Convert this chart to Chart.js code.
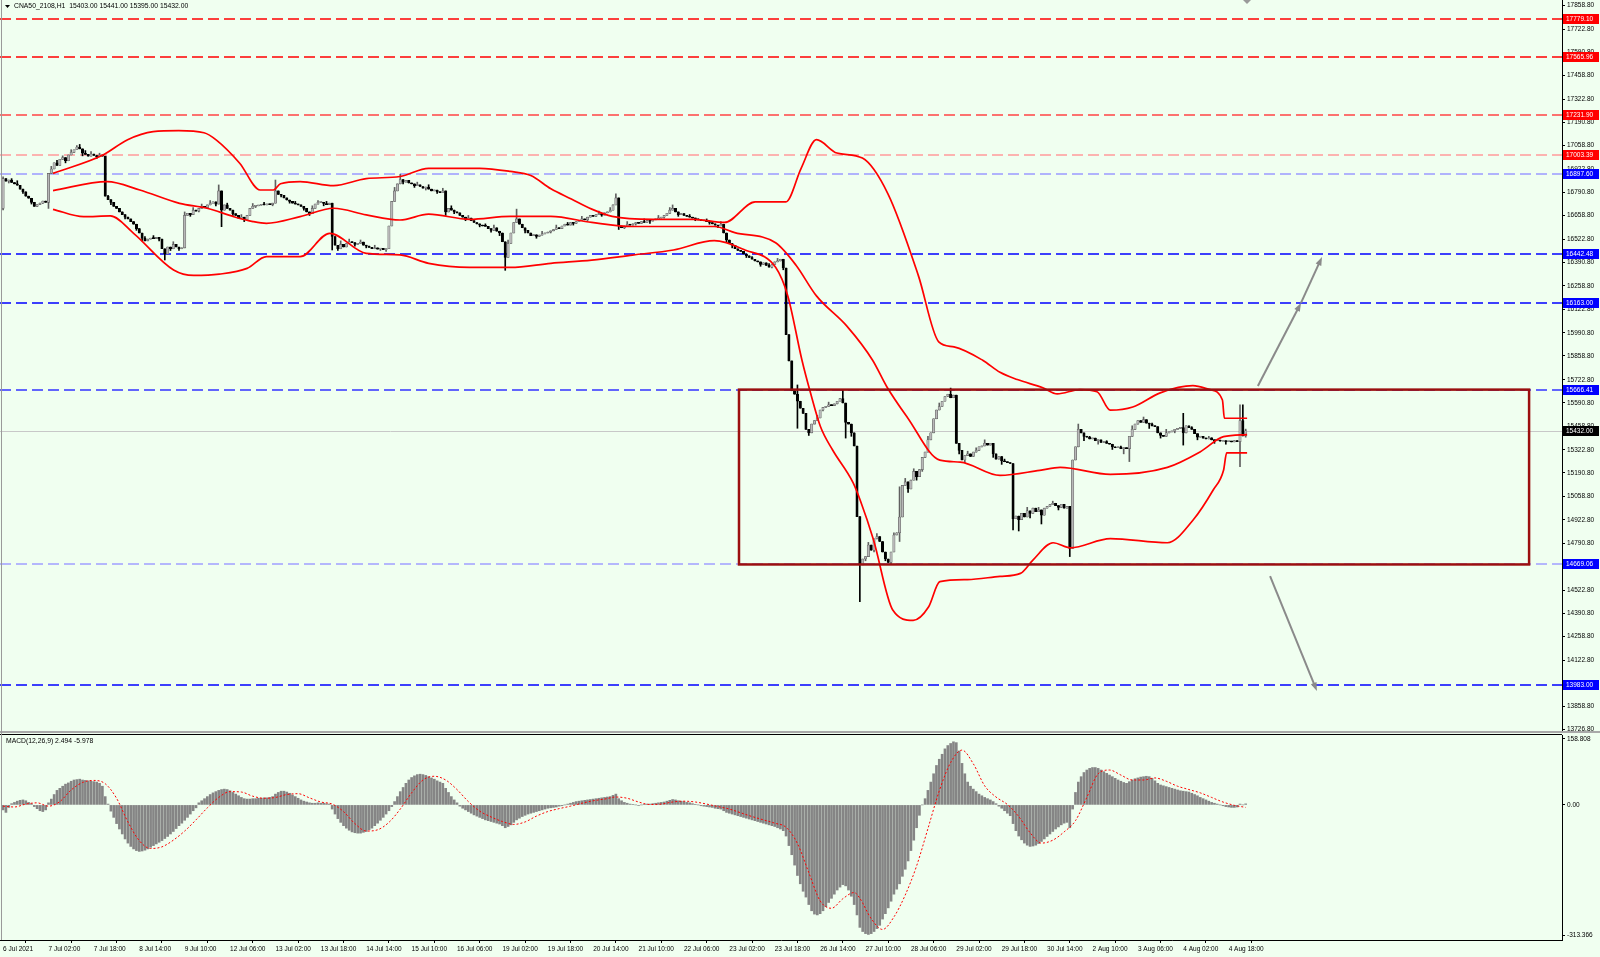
<!DOCTYPE html>
<html>
<head>
<meta charset="utf-8">
<script src="https://cdn.jsdelivr.net/npm/chart.js@4.4.1/dist/chart.umd.min.js"></script>
<style>
  html, body { margin: 0; padding: 0; background: #f0fff0; }
  #wrap { position: relative; width: 1600px; height: 957px; background: #f0fff0; overflow: hidden; }
  #main { position: absolute; left: 0; top: 0; width: 1600px; height: 731px; }
  #sub { position: absolute; left: 0; top: 735px; width: 1600px; height: 222px; }
  .ln { position: absolute; }
</style>
</head>
<body>
<div id="wrap">
  <div id="main"><canvas id="priceChart"></canvas></div>
  <div id="sub"><canvas id="macdChart"></canvas></div>
  <div class="ln" style="left:0;top:731px;width:1600px;height:2px;background:#a9a9a9"></div>
  <div class="ln" style="left:0;top:734px;width:1562px;height:1px;background:#000"></div>
  <div class="ln" style="left:1px;top:0;width:1px;height:940px;background:#9a9a9a"></div>
</div>
<script>
// ---- data (H1 bars, bar index 0 = 6 Jul 2021) ----
var symbolTitle = 'CNA50_2108,H1';
var firstOpen = 16700;
var closes = [
  16870,16855,16862,16848,16840,16832,16810,16795,16770,16758,16735,16712,16722,16730,16742,16735,
  16900,16925,16960,16945,16980,16990,16972,17005,17020,17035,17050,17040,17015,17008,16998,17010,
  17002,16995,17005,16998,16770,16750,16735,16712,16700,16680,16665,16650,16640,16625,16610,16585,
  16560,16530,16515,16525,16530,16528,16535,16525,16470,16440,16480,16470,16495,16480,16470,16475,
  16660,16672,16665,16690,16685,16700,16712,16705,16720,16730,16738,16725,16800,16690,16720,16700,
  16690,16670,16660,16645,16650,16635,16660,16700,16712,16715,16718,16722,16720,16725,16722,16730,
  16800,16780,16775,16760,16748,16740,16730,16725,16720,16712,16700,16680,16670,16700,16725,16735,
  16735,16728,16722,16730,16540,16490,16470,16495,16480,16500,16510,16505,16495,16500,16508,16490,
  16485,16478,16470,16475,16468,16472,16465,16470,16600,16740,16800,16840,16865,16850,16860,16845,
  16840,16830,16835,16825,16815,16822,16810,16800,16805,16795,16790,16800,16680,16700,16690,16680,
  16675,16660,16650,16640,16645,16630,16620,16612,16605,16600,16598,16585,16575,16590,16570,16560,
  16510,16420,16500,16560,16620,16640,16610,16590,16575,16560,16545,16550,16540,16548,16555,16560,
  16565,16572,16580,16590,16585,16600,16610,16605,16620,16615,16625,16630,16640,16635,16650,16660,
  16655,16665,16670,16662,16675,16680,16690,16720,16760,16600,16590,16600,16610,16605,16612,16620,
  16615,16625,16620,16630,16628,16635,16640,16645,16650,16660,16672,16690,16700,16680,16665,16670,
  16660,16655,16650,16645,16640,16635,16630,16632,16625,16620,16612,16605,16600,16610,16560,16520,
  16500,16490,16470,16460,16455,16440,16430,16420,16410,16400,16395,16380,16390,16375,16365,16380,
  16395,16400,16410,16360,15980,15830,15660,15640,15600,15560,15531,15440,15420,15470,15490,15505,
  15550,15565,15570,15580,15575,15585,15600,15615,15590,15480,15470,15420,15345,14942,14667,14700,
  14714,14780,14750,14815,14828,14800,14740,14700,14680,14740,14837,14850,14940,15120,15140,15100,
  15150,15200,15170,15210,15280,15310,15380,15420,15500,15550,15570,15600,15627,15640,15620,15635,
  15360,15320,15265,15290,15300,15285,15310,15320,15340,15345,15360,15350,15360,15300,15270,15285,
  15260,15255,15250,15245,14930,14945,14925,14960,14940,14975,14960,14990,14970,14980,14950,14990,
  15000,15010,15018,15005,14995,15012,14990,15000,14761,15265,15340,15440,15420,15400,15395,15385,
  15390,15375,15380,15365,15370,15360,15355,15340,15335,15340,15330,15335,15330,15400,15440,15470,
  15490,15480,15495,15475,15470,15460,15455,15420,15405,15400,15420,15425,15430,15440,15445,15450,
  15420,15460,15450,15440,15415,15395,15400,15390,15385,15392,15380,15375,15378,15372,15375,15370,
  15372,15368,15375,15370,15490,15403,15432
];
// wicks that stick out of the bodies
var wickHigh = {0:16880, 3:16870, 5:16858, 17:16940, 19:16975, 21:17000, 24:17035, 26:17058, 27:17065,
  29:17030, 31:17025, 34:17015, 37:16775, 41:16700, 45:16640, 50:16540, 53:16545, 60:16510, 64:16680,
  67:16705, 70:16725, 73:16745, 76:16834, 79:16730, 84:16665, 88:16728, 92:16735, 96:16862, 99:16775,
  103:16740, 109:16715, 111:16745, 114:16740, 119:16515, 122:16525, 126:16520, 131:16490, 138:16820,
  140:16895, 146:16850, 150:16835, 155:16815, 158:16715, 164:16660, 170:16612, 173:16605, 178:16520,
  181:16696, 186:16560, 190:16570, 195:16605, 199:16620, 204:16655, 210:16685, 214:16705, 216:16783,
  220:16625, 226:16640, 231:16660, 235:16705, 236:16720, 242:16665, 248:16640, 253:16625, 258:16485,
  264:16425, 270:16385, 273:16415, 280:15693, 287:15520, 291:15595, 296:15664, 300:15360, 305:14795,
  308:14845, 314:14850, 316:15112, 318:15160, 321:15215, 326:15400, 330:15590, 334:15675, 340:15315,
  343:15335, 346:15380, 353:15270, 361:14995, 365:14995, 370:15030, 379:15470, 383:15400, 389:15375,
  394:15345, 398:15460, 402:15510, 405:15475, 410:15440, 416:15531, 419:15455, 425:15400, 436:15579,
  437:15579, 438:15441};
var wickLow = {0:16691, 2:16845, 7:16785, 10:16725, 14:16728, 16:16700, 18:16935, 22:16960, 28:17000,
  33:16985, 38:16722, 43:16640, 47:16575, 49:16515, 55:16515, 57:16406, 59:16460, 62:16460, 66:16655,
  69:16680, 72:16700, 75:16715, 77:16596, 81:16660, 85:16625, 89:16705, 95:16715, 98:16765, 101:16730,
  106:16690, 108:16660, 113:16715, 116:16463, 118:16460, 121:16490, 124:16485, 128:16475, 133:16460,
  135:16455, 141:16840, 145:16820, 149:16805, 153:16785, 156:16660, 159:16670, 163:16630, 168:16595,
  172:16565, 175:16545, 177:16347, 180:16600, 184:16560, 188:16530, 193:16560, 197:16590, 201:16605,
  206:16630, 211:16655, 217:16580, 219:16585, 223:16605, 228:16615, 233:16645, 238:16655, 244:16630,
  249:16610, 252:16590, 255:16505, 257:16475, 262:16420, 267:16370, 271:16360, 275:16350, 280:15446,
  284:15405, 289:15545, 297:15390, 299:15400, 302:14457, 304:14690, 307:14740, 311:14690, 313:14670,
  316:14800, 319:15080, 322:15150, 324:15200, 337:15300, 339:15250, 344:15320, 349:15280, 352:15240,
  356:14866, 358:14860, 362:14935, 366:14900, 372:14980, 376:14714, 381:15375, 386:15355, 391:15325,
  395:15300, 397:15256, 404:15445, 408:15390, 413:15420, 416:15350, 421:15380, 427:15360, 431:15355,
  436:15227, 438:15395};

// Bollinger envelope (higher timeframe), [bar, price]
var upperBand = [[17.6,16900],[35.2,17005],[43.9,17092],[52.9,17138],[61.9,17144],[70.8,17132],[75.2,17090],
  [83.4,16958],[90.6,16805],[95.3,16805],[97.8,16841],[104.7,16853],[116.5,16830],[128,16870],[139.9,16882],
  [150,16929],[168,16929],[178.8,16911],[186,16888],[193.1,16812],[200.3,16754],[207.5,16696],[214.7,16655],
  [229.1,16638],[243.5,16638],[254.3,16620],[265.1,16737],[275.9,16737],[281.3,16929],[286.7,17092],
  [293.9,17016],[302.9,16987],[311.9,16783],[322.6,16318],[329.8,15939],[335.2,15910],[345.3,15834],
  [351.4,15765],[357.5,15724],[366.5,15677],[371.6,15642],[379.5,15666],[385.6,15654],[390.3,15549],
  [398.2,15567],[407.9,15648],[419.4,15689],[425.5,15666],[429.8,15607],[430.5,15503],[438.5,15503]];
var middleBand = [[17.6,16802],[36.7,16853],[48.2,16805],[62.2,16729],[71.9,16701],[81.3,16653],[88.1,16625],
  [92.8,16615],[104.7,16653],[116.5,16701],[128,16663],[139.9,16634],[150,16667],[164.4,16638],[178.8,16655],
  [193.1,16655],[207.5,16620],[221.9,16597],[236.3,16597],[250.7,16597],[257.9,16562],[272.3,16504],
  [279.5,16376],[286.7,16201],[297.5,16027],[306.5,15834],[311.5,15683],[318.7,15509],[330.2,15264],
  [337.4,15253],[351.4,15177],[365.4,15206],[372.6,15223],[390.3,15183],[410.4,15223],[421.9,15311],
  [430.2,15398],[438.5,15410]];
var lowerBand = [[17.6,16695],[28.4,16653],[37.8,16657],[46,16558],[60.1,16349],[67.2,16318],[76.2,16325],
  [86,16358],[92.8,16425],[104.7,16425],[115.1,16558],[128,16444],[139.9,16435],[150,16387],[164.4,16364],
  [178.8,16364],[193.1,16387],[207.5,16405],[221.9,16434],[236.3,16463],[250.7,16516],[261.5,16463],
  [272.3,16364],[276.6,16201],[281.6,15834],[284.5,15654],[288.1,15456],[292.4,15322],[299.6,15136],
  [302.1,15037],[306.8,14810],[313.6,14409],[320.8,14350],[326.2,14426],[330.2,14571],[339.9,14583],
  [351.4,14601],[358.6,14618],[363,14694],[370.1,14793],[376.2,14764],[390.3,14816],[410.4,14793],
  [419.4,14921],[426.6,15095],[430.2,15206],[431.3,15305],[438.5,15305]];

// MACD(12,26,9): main line as histogram, one value per bar
var macdMain = [
  -12,-18,-6,3,6,9,11,12,10,6,3,-4,-9,-14,-16,-12,
  5,14,25,35,40,45,50,53,57,60,61,62,60,59,58,57,
  56,55,52,45,20,2,-15,-30,-45,-58,-70,-82,-92,-100,-106,-110,
  -112,-111,-109,-106,-102,-98,-94,-90,-86,-81,-76,-70,-64,-57,-50,-44,
  -37,-30,-22,-14,-7,5,10,15,20,25,29,32,35,37,38,37,
  34,30,26,22,18,15,14,14,15,15,16,16,17,17,18,20,
  26,30,33,33,31,28,24,20,16,12,9,7,5,4,4,5,
  4,4,3,2,-10,-22,-33,-42,-50,-56,-61,-65,-67,-68,-68,-66,
  -64,-60,-56,-50,-44,-37,-30,-22,-14,-4,8,20,32,42,52,60,
  66,70,73,74,73,71,68,65,62,58,55,52,40,30,20,12,
  5,-3,-8,-12,-16,-20,-24,-27,-30,-33,-36,-38,-40,-42,-44,-46,
  -50,-55,-52,-48,-42,-36,-32,-28,-25,-22,-20,-18,-16,-14,-12,-10,
  -8,-7,-6,-5,-3,-2,0,2,4,6,8,9,10,11,12,13,
  14,15,16,17,18,19,20,23,26,15,10,6,4,2,1,0,
  -1,0,1,2,2,3,4,5,6,7,9,11,13,12,10,9,
  8,6,5,3,1,0,-2,-3,-4,-5,-6,-8,-9,-10,-14,-18,
  -20,-22,-24,-26,-28,-30,-32,-34,-36,-38,-40,-42,-44,-46,-48,-50,
  -52,-55,-58,-62,-75,-98,-120,-145,-170,-190,-208,-222,-240,-255,-263,-265,
  -262,-255,-245,-235,-225,-215,-205,-198,-192,-195,-205,-220,-240,-265,-295,-305,
  -310,-312,-310,-305,-298,-290,-275,-262,-248,-232,-215,-203,-190,-172,-155,-135,
  -110,-85,-55,-25,0,15,35,55,75,95,110,122,135,143,148,152,
  150,130,100,75,55,45,38,32,26,22,18,15,12,8,3,-3,
  -8,-14,-20,-26,-45,-62,-75,-84,-92,-97,-100,-99,-97,-93,-88,-82,
  -76,-70,-64,-58,-53,-48,-44,-42,-55,-10,30,55,68,78,84,88,
  90,90,88,84,80,76,72,68,64,60,57,54,52,56,60,63,
  65,67,68,69,68,64,58,52,48,46,44,42,40,38,36,34,
  33,32,31,28,25,22,18,15,12,9,6,4,2,0,-2,-4,
  -5,-6,-6,-5,2,0,2.494
];
var macdSignal = [[0,-3],[4,-5],[8,2],[12,5],[16,-3],[20,8],[24,36],[28,54],[32,59],[36,51],[40,16],[44,-41],
  [48,-86],[52,-105],[56,-101],[60,-85],[64,-63],[68,-36],[72,-7],[76,18],[80,32],[84,31],[88,21],[92,16],
  [96,18],[100,25],[104,27],[108,17],[112,7],[116,2],[120,-16],[124,-45],[128,-63],[132,-60],[136,-42],
  [140,-10],[144,29],[148,60],[152,69],[156,60],[160,37],[164,8],[168,-15],[172,-29],[176,-40],[180,-47],
  [184,-41],[188,-27],[192,-16],[196,-9],[200,-3],[204,4],[208,10],[212,14],[216,19],[220,16],[224,7],
  [228,1],[232,2],[236,7],[240,9],[244,7],[248,2],[252,-4],[256,-10],[260,-19],[264,-28],[268,-36],
  [272,-44],[276,-54],[280,-93],[284,-163],[288,-231],[292,-249],[296,-226],[300,-211],[302,-225],
  [306,-274],[310,-300],[314,-270],[318,-217],[322,-147],[326,-57],[330,34],[334,102],[338,132],[342,99],
  [346,46],[350,19],[354,1],[358,-28],[362,-67],[366,-92],[370,-85],[374,-65],[378,-38],[382,18],[386,75],
  [390,84],[394,72],[398,60],[402,60],[406,65],[410,57],[414,45],[418,37],[422,29],[426,18],[430,7],
  [434,-1],[438,-5.978]];

// axes
var priceTicks = [17858.80,17722.80,17590.80,17458.80,17322.80,17190.80,17058.80,16922.80,16790.80,16658.80,
  16522.80,16390.80,16258.80,16122.80,15990.80,15858.80,15722.80,15590.80,15458.80,15322.80,15190.80,
  15058.80,14922.80,14790.80,14658.80,14522.80,14390.80,14258.80,14122.80,13990.80,13858.80,13726.80];
var macdTicks = [158.808, 0, -313.366];
var timeTickBars = [0,16,32,48,64,80,96,112,128,144,160,176,192,208,224,240,256,272,288,304,320,336,352,368,384,400,416,432];
var timeLabels = ['6 Jul 2021','7 Jul 02:00','7 Jul 18:00','8 Jul 14:00','9 Jul 10:00','12 Jul 06:00',
  '13 Jul 02:00','13 Jul 18:00','14 Jul 14:00','15 Jul 10:00','16 Jul 06:00','19 Jul 02:00','19 Jul 18:00',
  '20 Jul 14:00','21 Jul 10:00','22 Jul 06:00','23 Jul 02:00','23 Jul 18:00','26 Jul 14:00','27 Jul 10:00',
  '28 Jul 06:00','29 Jul 02:00','29 Jul 18:00','30 Jul 14:00','2 Aug 10:00','3 Aug 06:00','4 Aug 02:00',
  '4 Aug 18:00'];

// horizontal levels drawn on the chart
var levelPrices = [17779.10, 17565.96, 17231.90, 17003.39, 16897.60, 16442.48, 16163.00, 15666.41, 14669.06, 13983.00];
var levelLineColors = ['#ff0000','#ff0000','#ff4444','#ff9a9a','#9a9aff','#0000ff','#0000ff','#3333ff','#a0a0ff','#0000ff'];
var levelBoxColors = ['#ff0000','#ff0000','#ff0000','#ff0000','#0000ff','#0000ff','#0000ff','#0000ff','#0000ff','#0000ff'];
var lastPrice = 15432.00;

// drawn objects: rectangle [bar1, price1, bar2, price2] and arrows
var boxObject = [259.4, 15666.41, 537.9, 14669.06];
var arrowObjects = [[442.3, 15687, 457.5, 16161], [457.5, 16161, 464.9, 16423], [446.6, 14603, 463.1, 13947]];

var FONT = '"Liberation Sans", Arial, sans-serif';
Chart.defaults.font.family = FONT;
Chart.defaults.color = '#000';

var X_MIN = -1.09, X_MAX = 549.5;

var candleWicks = [], candleBodies = [], bodyColors = [], bodyBorders = [], wickColors = [];
for (var i = 0; i < closes.length; i++) {
  var o = i === 0 ? firstOpen : closes[i - 1];
  var c = closes[i];
  var hi = Math.max(o, c), lo = Math.min(o, c);
  if (wickHigh[i] !== undefined) hi = Math.max(hi, wickHigh[i]);
  if (wickLow[i] !== undefined) lo = Math.min(lo, wickLow[i]);
  candleWicks.push({x: i, y: [lo, hi]});
  candleBodies.push({x: i, y: [o, c]});
  var up = c >= o;
  bodyColors.push(up ? '#b8b8b8' : '#000000');
  bodyBorders.push(up ? '#606060' : '#000000');
  wickColors.push(up ? '#606060' : '#000000');
}

function toPoints(arr) {
  return arr.map(function(p) { return {x: p[0], y: p[1]}; });
}

function bandDataset(arr) {
  return {
    type: 'line', data: toPoints(arr), borderColor: '#ff0000', borderWidth: 1.7,
    pointRadius: 0, cubicInterpolationMode: 'monotone', order: 1
  };
}

function drawArrow(ctx, x1, y1, x2, y2) {
  var ang = Math.atan2(y2 - y1, x2 - x1);
  ctx.beginPath();
  ctx.moveTo(x1, y1);
  ctx.lineTo(x2 - 6 * Math.cos(ang), y2 - 6 * Math.sin(ang));
  ctx.stroke();
  ctx.beginPath();
  ctx.moveTo(x2, y2);
  ctx.lineTo(x2 - 9 * Math.cos(ang - 0.35), y2 - 9 * Math.sin(ang - 0.35));
  ctx.lineTo(x2 - 9 * Math.cos(ang + 0.35), y2 - 9 * Math.sin(ang + 0.35));
  ctx.closePath();
  ctx.fill();
}

function axisBox(ctx, x, y, bg, text) {
  ctx.fillStyle = bg;
  ctx.fillRect(x, Math.round(y) - 5, 36, 10);
  ctx.fillStyle = '#ffffff';
  ctx.textAlign = 'left';
  ctx.textBaseline = 'middle';
  ctx.fillText(text, x + 3, Math.round(y) + 0.5);
}

var mt4Objects = {
  id: 'mt4Objects',
  beforeDatasetsDraw: function(chart) {
    var ctx = chart.ctx, area = chart.chartArea, ys = chart.scales.y;
    ctx.save();
    ctx.lineWidth = 1.5;
    ctx.setLineDash([11, 5]);
    levelPrices.forEach(function(p, k) {
      var y = Math.round(ys.getPixelForValue(p));
      ctx.strokeStyle = levelLineColors[k];
      ctx.beginPath();
      ctx.moveTo(area.left, y);
      ctx.lineTo(area.right, y);
      ctx.stroke();
    });
    ctx.setLineDash([]);
    ctx.lineWidth = 1;
    var yl = Math.round(ys.getPixelForValue(lastPrice)) + 0.5;
    ctx.strokeStyle = '#c8c8c8';
    ctx.beginPath();
    ctx.moveTo(area.left, yl);
    ctx.lineTo(area.right, yl);
    ctx.stroke();
    ctx.restore();
  },
  afterDatasetsDraw: function(chart) {
    var ctx = chart.ctx, xs = chart.scales.x, ys = chart.scales.y;
    ctx.save();
    var x1 = xs.getPixelForValue(boxObject[0]), y1 = ys.getPixelForValue(boxObject[1]);
    var x2 = xs.getPixelForValue(boxObject[2]), y2 = ys.getPixelForValue(boxObject[3]);
    ctx.strokeStyle = '#9b0f0f';
    ctx.lineWidth = 2.5;
    ctx.strokeRect(x1, y1, x2 - x1, y2 - y1);
    ctx.strokeStyle = '#8a8a8a';
    ctx.fillStyle = '#8a8a8a';
    ctx.lineWidth = 2;
    arrowObjects.forEach(function(a) {
      drawArrow(ctx, xs.getPixelForValue(a[0]), ys.getPixelForValue(a[1]),
        xs.getPixelForValue(a[2]), ys.getPixelForValue(a[3]));
    });
    ctx.restore();
  },
  afterDraw: function(chart) {
    var ctx = chart.ctx, area = chart.chartArea, ys = chart.scales.y;
    ctx.save();
    ctx.font = '6.5px ' + FONT;
    levelPrices.forEach(function(p, k) {
      axisBox(ctx, area.right + 1, ys.getPixelForValue(p), levelBoxColors[k], p.toFixed(2));
    });
    axisBox(ctx, area.right + 1, ys.getPixelForValue(lastPrice), '#000000', lastPrice.toFixed(2));
    // title line
    ctx.fillStyle = '#000';
    ctx.beginPath();
    ctx.moveTo(5, 5); ctx.lineTo(10, 5); ctx.lineTo(7.5, 8); ctx.closePath(); ctx.fill();
    ctx.font = '6.8px ' + FONT;
    ctx.textAlign = 'left';
    ctx.textBaseline = 'middle';
    var n = closes.length - 1;
    ctx.fillText(symbolTitle + '  ' + closes[n - 1].toFixed(2) + ' ' + wickHigh[n].toFixed(2) + ' ' +
      wickLow[n].toFixed(2) + ' ' + closes[n].toFixed(2), 14, 6.5);
    // chart shift marker
    ctx.fillStyle = '#9a9a9a';
    ctx.beginPath();
    ctx.moveTo(1243, 0); ctx.lineTo(1251, 0); ctx.lineTo(1247, 4); ctx.closePath(); ctx.fill();
    ctx.restore();
  }
};

new Chart(document.getElementById('priceChart'), {
  type: 'bar',
  data: {
    datasets: [
      bandDataset(upperBand),
      bandDataset(middleBand),
      bandDataset(lowerBand),
      { data: candleWicks, backgroundColor: wickColors, barThickness: 1, grouped: false, order: 3 },
      { data: candleBodies, backgroundColor: bodyColors, borderColor: bodyBorders, borderWidth: 0.6,
        borderSkipped: false, barThickness: 2.4, minBarLength: 1, grouped: false, order: 2 }
    ]
  },
  options: {
    responsive: true, maintainAspectRatio: false, animation: false,
    layout: { padding: 0 },
    plugins: { legend: { display: false }, tooltip: { enabled: false } },
    scales: {
      x: { type: 'linear', min: X_MIN, max: X_MAX, offset: false, display: false },
      y: {
        position: 'right', min: 13719, max: 17889,
        afterBuildTicks: function(s) { s.ticks = priceTicks.map(function(v) { return {value: v}; }); },
        afterFit: function(s) { s.width = 38; s.paddingTop = 0; s.paddingBottom = 0; },
        ticks: { autoSkip: false, padding: 2, font: { size: 6.5 }, color: '#000',
          callback: function(v) { return Number(v).toFixed(2); } },
        grid: { drawOnChartArea: false, tickLength: 3, color: '#000' },
        border: { color: '#000' }
      }
    }
  },
  plugins: [mt4Objects]
});

var macdLabel = {
  id: 'macdLabel',
  afterDraw: function(chart) {
    var ctx = chart.ctx;
    ctx.save();
    ctx.font = '6.8px ' + FONT;
    ctx.fillStyle = '#000';
    ctx.textAlign = 'left';
    ctx.textBaseline = 'middle';
    ctx.fillText('MACD(12,26,9) ' + macdMain[macdMain.length - 1].toFixed(3) + ' ' +
      macdSignal[macdSignal.length - 1][1].toFixed(3), 6, 6);
    ctx.restore();
  }
};

new Chart(document.getElementById('macdChart'), {
  type: 'bar',
  data: {
    datasets: [
      { type: 'line', data: toPoints(macdSignal), borderColor: '#ff0000', borderWidth: 1, borderDash: [2, 2],
        pointRadius: 0, cubicInterpolationMode: 'monotone', order: 1 },
      { data: macdMain.map(function(v, k) { return {x: k, y: v}; }), backgroundColor: '#858585',
        barThickness: 2, grouped: false, order: 2 }
    ]
  },
  options: {
    responsive: true, maintainAspectRatio: false, animation: false,
    layout: { padding: 0 },
    plugins: { legend: { display: false }, tooltip: { enabled: false } },
    scales: {
      x: {
        type: 'linear', min: X_MIN, max: X_MAX, offset: false,
        afterBuildTicks: function(s) { s.ticks = timeTickBars.map(function(v) { return {value: v}; }); },
        afterFit: function(s) { s.height = 17; s.paddingLeft = 0; s.paddingRight = 0; },
        ticks: { autoSkip: false, maxRotation: 0, align: 'start', padding: 2, font: { size: 6.5 }, color: '#000',
          callback: function(v, k) { return timeLabels[k]; } },
        grid: { drawOnChartArea: false, tickLength: 3, color: '#000' },
        border: { color: '#000' }
      },
      y: {
        position: 'right', min: -325.4, max: 168.4,
        afterBuildTicks: function(s) { s.ticks = macdTicks.map(function(v) { return {value: v}; }); },
        afterFit: function(s) { s.width = 38; s.paddingTop = 0; s.paddingBottom = 0; },
        ticks: { autoSkip: false, padding: 2, font: { size: 6.5 }, color: '#000',
          callback: function(v) { return v === 0 ? '0.00' : String(v); } },
        grid: { drawOnChartArea: false, tickLength: 3, color: '#000' },
        border: { color: '#000' }
      }
    }
  },
  plugins: [macdLabel]
});
</script>
</body>
</html>
